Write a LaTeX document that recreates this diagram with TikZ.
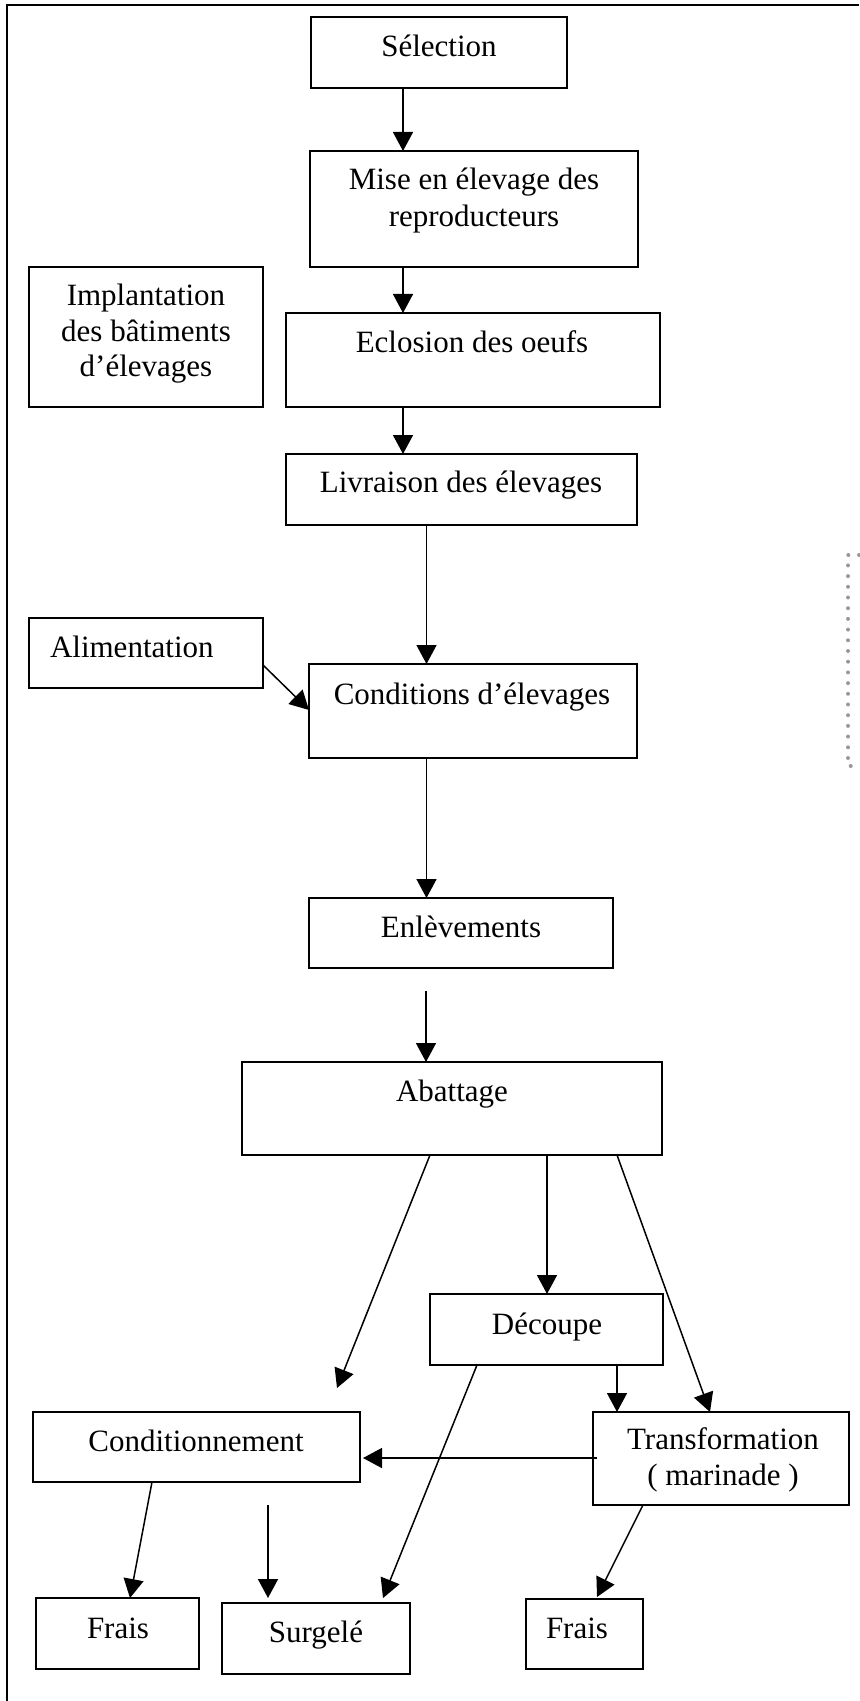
\documentclass[tikz,border=0pt]{standalone}
\usepackage{fontspec}
\setmainfont{Liberation Serif}
\usetikzlibrary{arrows.meta,calc}
\begin{document}
\begin{tikzpicture}[x=0.5pt,y=-0.5pt,
  boxst/.style={draw,line width=0.85pt,rectangle,inner sep=0pt,outer sep=0pt},
  txt/.style={inner sep=0pt,outer sep=0pt,anchor=base,font=\fontsize{15.5}{18}\selectfont},
  conn/.style={line width=0.75pt,-{Triangle[length=9.5pt,width=10pt]}},
  dotline/.style={draw=black!40,line width=2pt,line cap=round,dash pattern=on 0pt off 5.35pt}]
\useasboundingbox (0,0) rectangle (859,1701);
% frame
\draw[line width=1.1pt] (7,1701) -- (7,5) -- (859,5);
% dotted fragment at right
\draw[dotline] (859,555) -- (848,555) -- (848,766) -- (859,766);

% boxes
\node[boxst,minimum width=128pt,minimum height=35.5pt] (sel) at (439,52.5) {};
\node[boxst,minimum width=164pt,minimum height=58pt] (mise) at (474,209) {};
\node[boxst,minimum width=117pt,minimum height=70pt] (impl) at (146,337) {};
\node[boxst,minimum width=187pt,minimum height=47pt] (eclo) at (473,360) {};
\node[boxst,minimum width=175.5pt,minimum height=35.5pt] (livr) at (461.5,489.5) {};
\node[boxst,minimum width=117pt,minimum height=35pt] (alim) at (146,653) {};
\node[boxst,minimum width=164pt,minimum height=47pt] (cond) at (473,711) {};
\node[boxst,minimum width=152pt,minimum height=35pt] (enl) at (461,933) {};
\node[boxst,minimum width=210pt,minimum height=46.5pt] (abat) at (452,1108.5) {};
\node[boxst,minimum width=116.5pt,minimum height=35.5pt] (dec) at (546.5,1329.5) {};
\node[boxst,minimum width=128pt,minimum height=46.5pt] (trans) at (721,1458.5) {};
\node[boxst,minimum width=163.5pt,minimum height=35pt] (condi) at (196.5,1447) {};
\node[boxst,minimum width=81.5pt,minimum height=35.5pt] (fraisa) at (117.5,1633.5) {};
\node[boxst,minimum width=94pt,minimum height=35.5pt] (surg) at (316,1638.5) {};
\node[boxst,minimum width=58.5pt,minimum height=35pt] (fraisb) at (584.5,1634) {};

% texts
\node[txt] (selT) at (439,57) {Sélection};
\node[txt] (miseTa) at (474,190) {Mise en élevage des};
\node[txt] (miseTb) at (474,227) {reproducteurs};
\node[txt] (implTa) at (146,306) {Implantation};
\node[txt] (implTb) at (146,342) {des bâtiments};
\node[txt] (implTc) at (146,377) {d’élevages};
\node[txt] (ecloT) at (472,353) {Eclosion des oeufs};
\node[txt] (livrT) at (461,492) {Livraison des élevages};
\node[txt,anchor=base west] (alimT) at (50,657) {Alimentation};
\node[txt] (condT) at (472,704) {Conditions d’élevages};
\node[txt] (enlT) at (461,937) {Enlèvements};
\node[txt] (abatT) at (452,1101) {Abattage};
\node[txt] (decT) at (547,1334) {Découpe};
\node[txt] (transTa) at (723,1449) {Transformation};
\node[txt] (transTb) at (723,1485) {( marinade )};
\node[txt] (condiT) at (196,1451) {Conditionnement};
\node[txt] (fraisaT) at (118,1638) {Frais};
\node[txt] (surgT) at (316,1642) {Surgelé};
\node[txt] (fraisbT) at (577,1638) {Frais};

% helper coordinates
\coordinate (vA) at (403,0);
\coordinate (vB) at (426.5,0);
\coordinate (yAa) at (0,665);
\coordinate (yAb) at (0,710);
\coordinate (gS) at (426,991);
\coordinate (vH) at (430,0);
\coordinate (hE) at (337,1388);
\coordinate (vI) at (547,0);
\coordinate (vJa) at (617,0);
\coordinate (vJb) at (710,0);
\coordinate (vLa) at (477,0);
\coordinate (vLb) at (383,0);
\coordinate (yM) at (0,1458);
\coordinate (vNa) at (152,0);
\coordinate (vNb) at (130,0);
\coordinate (oS) at (268,1505);
\coordinate (oE) at (268,1598);
\coordinate (vPa) at (643,0);
\coordinate (vPb) at (597,0);

% connectors
\draw[conn] (sel.south -| vA) -- (mise.north -| vA);
\draw[conn] (mise.south -| vA) -- (eclo.north -| vA);
\draw[conn] (eclo.south -| vA) -- (livr.north -| vA);
\draw[conn] (livr.south -| vB) -- (cond.north -| vB);
\draw[conn] (alim.east |- yAa) -- (cond.west |- yAb);
\draw[conn] (cond.south -| vB) -- (enl.north -| vB);
\draw[conn] (gS) -- (abat.north -| gS);
\draw[conn] (abat.south -| vH) -- (hE);
\draw[conn] (abat.south -| vI) -- (dec.north -| vI);
\draw[conn] (abat.south -| vJa) -- (trans.north -| vJb);
\draw[conn] (dec.south -| vJa) -- (trans.north -| vJa);
\draw[conn] (dec.south -| vLa) -- ($(surg.north -| vLb)+(0,-5)$);
\draw[conn] ($(trans.west |- yM)+(4,0)$) -- ($(condi.east |- yM)+(3,0)$);
\draw[conn] (condi.south -| vNa) -- (fraisa.north -| vNb);
\draw[conn] (oS) -- (oE);
\draw[conn] (trans.south -| vPa) -- ($(fraisb.north -| vPb)+(0,-2)$);
\end{tikzpicture}
\end{document}
